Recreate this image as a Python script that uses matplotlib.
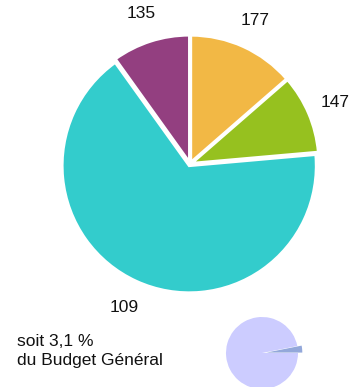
import matplotlib.pyplot as plt

plt.rcParams['font.family'] = ['Liberation Sans', 'DejaVu Sans']

# Main breakdown: displayed amounts and slice shares (%)
labels = ['177', '147', '109', '135']
shares = [13.6, 10.0, 66.5, 9.9]
colors = ['#F2B845', '#96C11F', '#33CCCC', '#933F80']

# Share of the general budget
budget_share = 3.1
budget_colors = ['#93A8DA', '#CCCCFF']

W, H = 358, 387
fig = plt.figure(figsize=(W / 100, H / 100), dpi=100)


def px_axes(cx, cy, r):
    # square axes centred on a pixel position (y measured from top)
    return fig.add_axes([(cx - r) / W, (H - cy - r) / H, 2 * r / W, 2 * r / H])


ax = px_axes(190, 164, 127)
wedges, texts = ax.pie(shares, labels=labels, colors=colors, startangle=90,
                       counterclock=False, explode=[0.015] * 4,
                       labeldistance=1.23,
                       wedgeprops=dict(edgecolor='white', linewidth=2),
                       textprops=dict(fontsize=12.5, color='#111111'))
for w in wedges:
    w.set_clip_on(False)
for t in texts:
    t.set_ha('center')
ax.set_xlim(-1, 1)
ax.set_ylim(-1, 1)
ax.axis('off')

ax2 = px_axes(262, 353, 36)
small, _ = ax2.pie([budget_share, 100 - budget_share], colors=budget_colors,
                   startangle=0, explode=[0.12, 0])
for w in small:
    w.set_clip_on(False)
ax2.set_xlim(-1, 1)
ax2.set_ylim(-1, 1)
ax2.axis('off')

fig.text(17 / W, 1 - 341 / H, 'soit 3,1 %', fontsize=12.5, va='center', color='#111111')
fig.text(17 / W, 1 - 361 / H, 'du Budget Général', fontsize=12.5, va='center', color='#111111')

fig.savefig('out.png', dpi=100)
